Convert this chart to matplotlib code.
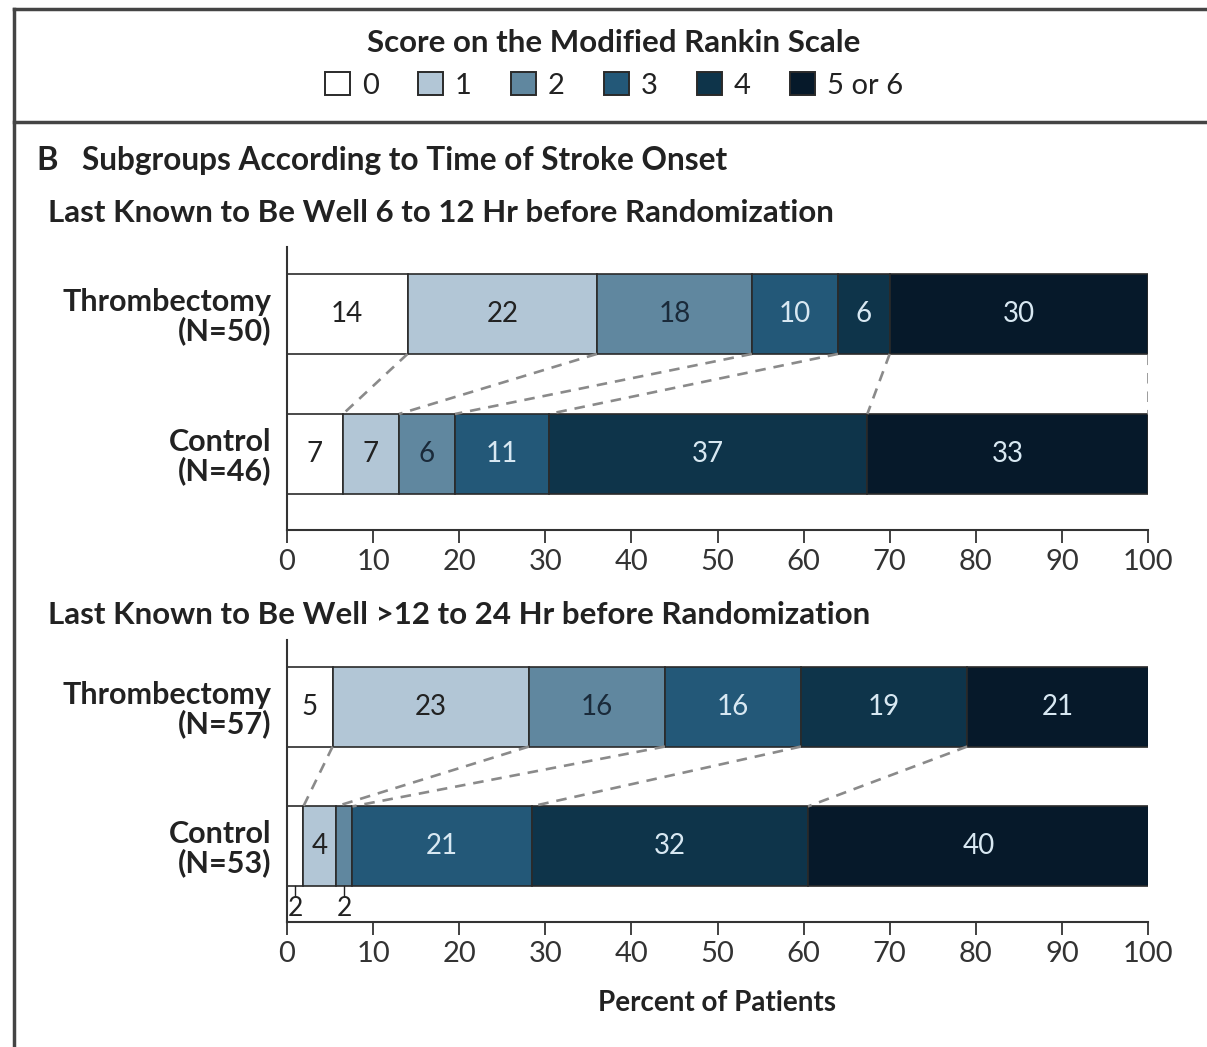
import numpy as np
import matplotlib.pyplot as plt
from matplotlib import font_manager
from matplotlib.patches import Patch
from matplotlib.lines import Line2D

# fonts: a narrow-ish sans if installed
names = {f.name for f in font_manager.fontManager.ttflist}
FONT = 'Lato' if 'Lato' in names else 'DejaVu Sans'
plt.rcParams['font.family'] = [FONT, 'DejaVu Sans']

# ---- data ----
scores = ["0", "1", "2", "3", "4", "5 or 6"]
colors = ["#ffffff", "#b2c6d6", "#60879f", "#235878", "#0e344a", "#06192a"]
text_colors = ["#222222", "#222222", "#1a2a3a", "#d8e8f2", "#d8e8f2", "#d8e8f2"]

groups = ["Thrombectomy", "Control"]

# 6 to 12 hr
early_n = [50, 46]
early_thromb = [14, 22, 18, 10, 6, 30]
early_control = [6.5, 6.5, 6.5, 10.9, 37.0, 32.6]
early_thromb_lbl = [14, 22, 18, 10, 6, 30]
early_control_lbl = [7, 7, 6, 11, 37, 33]

# >12 to 24 hr
late_n = [57, 53]
late_thromb = [5.3, 22.8, 15.8, 15.8, 19.3, 21.1]
late_control = [1.9, 3.8, 1.9, 20.8, 32.1, 39.6]
late_thromb_lbl = [5, 23, 16, 16, 19, 21]
late_control_lbl = [2, 4, 2, 21, 32, 40]

W, H = 1207, 1047
fig = plt.figure(figsize=(W / 100, H / 100), dpi=100)
dark = "#222222"
bar_h = 0.57


def fx(px):
    return px / W


def fy(py):
    return 1 - py / H


def draw_panel(ax, thromb, control, thromb_lbl, control_lbl, ns):
    rows = [(1, thromb, thromb_lbl), (0, control, control_lbl)]
    cums = []
    for y, vals, lbls in rows:
        left = np.concatenate([[0], np.cumsum(vals)[:-1]])
        cums.append(np.cumsum(vals))
        ax.barh(y, vals, left=left, height=bar_h, color=colors,
                edgecolor="#2a2a2a", linewidth=1.2)
        for i, (v, l, lf) in enumerate(zip(vals, lbls, left)):
            cx = lf + v / 2
            if v >= 3:
                ax.text(cx, y, str(l), ha="center", va="center",
                        fontsize=20, color=text_colors[i])
            else:
                # small segment: label under the bar
                ax.plot([cx, cx], [y - bar_h / 2, y - bar_h / 2 - 0.07],
                        color=dark, lw=1.0, clip_on=False)
                ax.text(cx, y - bar_h / 2 - 0.07, str(l), ha="center", va="top",
                        fontsize=19, color=dark)
    # dashed connectors between the bars
    top_c, bot_c = cums
    for a, b in zip(top_c, bot_c):
        ax.plot([a, b], [1 - bar_h / 2, bar_h / 2], ls=(0, (4, 3)),
                color="#8a8a8a", lw=1.9)
    ax.set_xlim(0, 100)
    ax.set_ylim(-0.545, 1.48)
    ax.set_yticks([1, 0])
    ax.set_yticklabels([f"{g}\n(N={n})" for g, n in zip(groups, ns)],
                       fontsize=22, color=dark, ha="right", linespacing=1.0)
    ax.tick_params(axis="y", length=0, pad=11)
    ax.set_xticks(np.arange(0, 101, 10))
    ax.tick_params(axis="x", length=9, width=1.3, labelsize=21,
                   labelcolor="#333333", colors="#333333", pad=5)
    for s in ["top", "right"]:
        ax.spines[s].set_visible(False)
    for s in ["left", "bottom"]:
        ax.spines[s].set_linewidth(1.5)
        ax.spines[s].set_color("#333333")
    for t in ax.get_yticklabels():
        t.set_fontweight("bold")


ax1 = fig.add_axes([fx(287), fy(530), fx(1148) - fx(287), (530 - 247) / H])
draw_panel(ax1, early_thromb, early_control, early_thromb_lbl, early_control_lbl, early_n)

ax2 = fig.add_axes([fx(287), fy(922), fx(1148) - fx(287), (922 - 640) / H])
draw_panel(ax2, late_thromb, late_control, late_thromb_lbl, late_control_lbl, late_n)
ax2.set_xlabel("Percent of Patients", fontsize=20, fontweight="bold", color=dark, labelpad=16)

# legend
handles = [Patch(facecolor=c, edgecolor="#2a2a2a", linewidth=1.4) for c in colors]
leg = fig.legend(handles, scores, loc="center", bbox_to_anchor=(fx(614), fy(64)),
                 ncol=6, frameon=False, fontsize=21, title="Score on the Modified Rankin Scale",
                 title_fontproperties={"size": 22.5, "weight": "bold"},
                 handlelength=0.85, handleheight=0.85, handletextpad=0.4, columnspacing=1.36,
                 labelcolor=dark, borderpad=0.2)
leg.get_title().set_color(dark)

# headings
fig.text(fx(36), fy(160), "B", fontsize=23.5, fontweight="bold", color=dark, va="center")
fig.text(fx(82), fy(160), "Subgroups According to Time of Stroke Onset", fontsize=22.8,
         fontweight="bold", color=dark, va="center")
fig.text(fx(48), fy(213), "Last Known to Be Well 6 to 12 Hr before Randomization",
         fontsize=22.5, fontweight="bold", color=dark, va="center")
fig.text(fx(48), fy(615), "Last Known to Be Well >12 to 24 Hr before Randomization",
         fontsize=22.5, fontweight="bold", color=dark, va="center")

# frame lines
frame = dict(color="#444444", lw=2.5, transform=fig.transFigure)
fig.add_artist(Line2D([fx(14), fx(14)], [fy(9), 0], **frame))
fig.add_artist(Line2D([fx(14), 1], [fy(9), fy(9)], **frame))
fig.add_artist(Line2D([fx(14), 1], [fy(122), fy(122)], **frame))

fig.savefig("out.png", dpi=100)
